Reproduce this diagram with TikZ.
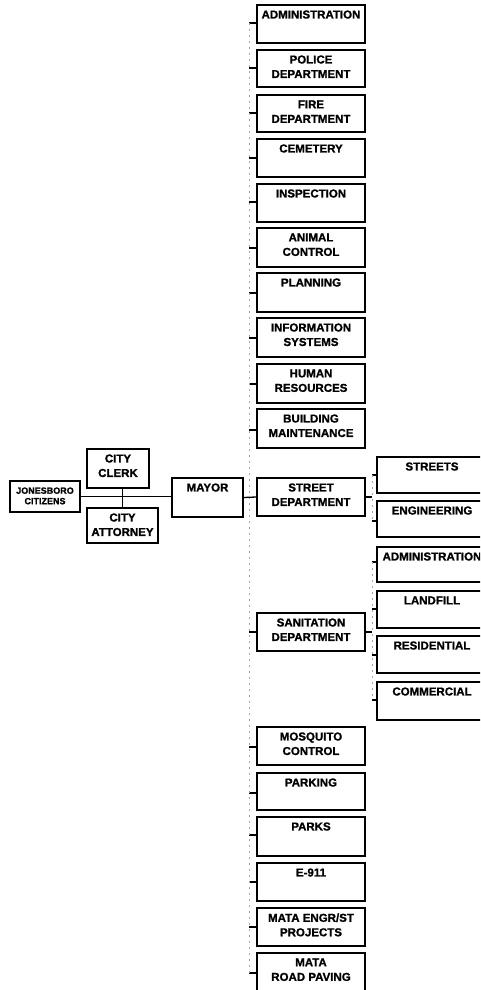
\documentclass[tikz,border=0pt]{standalone}
\usepackage{fontspec}
\setmainfont{Liberation Sans}[BoldFeatures={FakeBold=1.2}]
\tikzset{
  box/.style={draw, line width=1.5pt, rectangle, inner sep=0pt},
  lbl/.style={font=\bfseries\fontsize{11.5}{14.5}\selectfont, align=center, inner sep=0pt, anchor=north, yshift=-6pt},
  smalllbl/.style={font=\bfseries\fontsize{9}{10.5}\selectfont, yshift=-1pt},
  conn/.style={line width=1.3pt},
  trunk/.style={line width=0.6pt, black!35, dash pattern=on 2pt off 4pt},
}
% #1 extra label style, #2 name, #3 x1, #4 y1, #5 x2, #6 y2, #7 text
\newcommand\obox[7][]{%
  \node[box, minimum width={(#5-#3)*1pt}, minimum height={(#6-#4)*1pt}] (#2) at ({(#3+#5)/2},{(#4+#6)/2}) {};
  \node[lbl,#1] (#2-t) at (#2.north) {#7};
}
% #1 name of box, #2 x of trunk, #3 y
\newcommand\ostub[3]{%
  \coordinate (#1-s) at (#2,#3);
  \draw[conn] (#1-s) -- (#1-s -| #1.west);
}
\begin{document}
\begin{tikzpicture}[x=1pt,y=-1pt]
\useasboundingbox (0,0) rectangle (480,990);
\clip (0,0) rectangle (480,990);
\fill[white] (0,0) rectangle (480,990);

% left group
\obox[smalllbl]{cit}{10}{481}{80}{512}{JONESBORO\\CITIZENS}
\obox{clerk}{87}{449}{149}{488}{CITY\\CLERK}
\obox{att}{87}{508}{158}{543}{CITY\\ATTORNEY}
\obox{mayor}{172}{478}{243}{517}{MAYOR}
\draw[conn] (cit.east) -- (cit.east -| mayor.west);
\draw[conn] (att.north) -- (att.north |- clerk.south);

% main column
\obox{adm}{257}{5}{365}{43}{ADMINISTRATION}
\obox{pol}{257}{50}{365}{87}{POLICE\\DEPARTMENT}
\obox{fire}{257}{95}{365}{132}{FIRE\\DEPARTMENT}
\obox{cem}{257}{139}{365}{177}{CEMETERY}
\obox{insp}{257}{184}{365}{222}{INSPECTION}
\obox{anim}{257}{228}{365}{267}{ANIMAL\\CONTROL}
\obox{plan}{257}{273}{365}{312}{PLANNING}
\obox{info}{257}{318}{365}{357}{INFORMATION\\SYSTEMS}
\obox{hum}{257}{364}{365}{403}{HUMAN\\RESOURCES}
\obox{bld}{257}{409}{365}{448}{BUILDING\\MAINTENANCE}
\obox{street}{257}{478}{365}{516}{STREET\\DEPARTMENT}
\obox{san}{257}{613}{365}{651}{SANITATION\\DEPARTMENT}
\obox{mosq}{257}{727}{365}{765}{MOSQUITO\\CONTROL}
\obox{park}{257}{773}{365}{810}{PARKING}
\obox{parks}{257}{817}{365}{856}{PARKS}
\obox{e911}{257}{863}{365}{901}{E-911}
\obox{mata}{257}{908}{365}{946}{MATA ENGR/ST\\PROJECTS}
\obox{road}{257}{953}{365}{993}{MATA\\ROAD PAVING}

\ostub{adm}{249}{23}
\ostub{pol}{249}{68}
\ostub{fire}{249}{113}
\ostub{cem}{249}{158}
\ostub{insp}{249}{202}
\ostub{anim}{249}{248}
\ostub{plan}{249}{293}
\ostub{info}{249}{338}
\ostub{hum}{249}{384}
\ostub{bld}{249}{430}
\ostub{san}{249}{632}
\ostub{mosq}{249}{747}
\ostub{park}{249}{793}
\ostub{parks}{249}{835}
\ostub{e911}{249}{882}
\ostub{mata}{249}{927}
\ostub{road}{249}{973}
\draw[trunk] (adm-s) -- (road-s);
\draw[conn] (mayor.east) -- (street.west);

% sub column
\obox{strs}{377}{457}{487}{493}{STREETS}
\obox{eng}{377}{501}{487}{537}{ENGINEERING}
\obox{adm2}{377}{547}{487}{582}{ADMINISTRATION}
\obox{land}{377}{591}{487}{628}{LANDFILL}
\obox{res}{377}{636}{487}{673}{RESIDENTIAL}
\obox{com}{377}{682}{487}{720}{COMMERCIAL}

\ostub{strs}{372}{475}
\ostub{eng}{372}{521}
\ostub{adm2}{372}{562}
\ostub{land}{372}{609}
\ostub{res}{372}{655}
\ostub{com}{372}{700}

\coordinate (st-j) at (372,497);
\coordinate (san-j) at (372,632);
\draw[conn] (street.east) -- (st-j);
\draw[conn] (san.east |- san-j) -- (san-j);
\draw[trunk] (strs-s) -- (eng-s);
\draw[trunk] (adm2-s) -- (com-s);
\end{tikzpicture}
\end{document}
